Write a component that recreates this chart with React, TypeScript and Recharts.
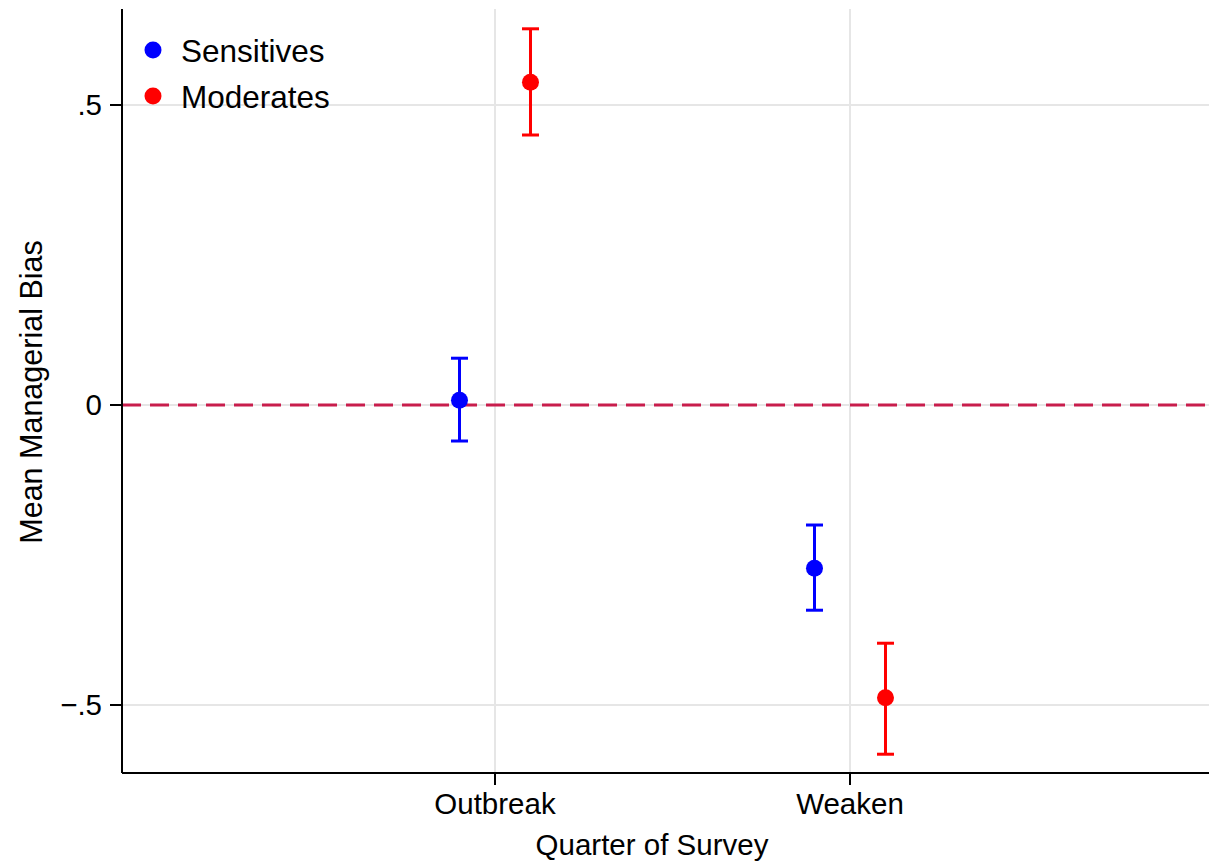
import React from "react";
import {
  ErrorBar,
  Legend,
  ReferenceLine,
  Scatter,
  ScatterChart,
  XAxis,
  YAxis,
} from "recharts";

const quarters = ["Outbreak", "Weaken"];

// Sensitives: mean and 95% CI per quarter
const sensitivesMean = [0.008, -0.272];
const sensitivesLow = [-0.06, -0.342];
const sensitivesHigh = [0.078, -0.2];

// Moderates
const moderatesMean = [0.538, -0.488];
const moderatesLow = [0.45, -0.582];
const moderatesHigh = [0.627, -0.397];

const yTicks = [-0.5, 0, 0.5];
const xTicks = [1, 2];

const FONT = "'Liberation Sans', Arial, Helvetica, sans-serif";
const GRID = "#e6e6e6";

const build = (mean: number[], low: number[], high: number[], shift: number) =>
  mean.map((m, i) => ({
    x: i + 1 + shift,
    y: m,
    err: [m - low[i], high[i] - m],
  }));

const sensitives = build(sensitivesMean, sensitivesLow, sensitivesHigh, -0.1);
const moderates = build(moderatesMean, moderatesLow, moderatesHigh, 0.1);

const series = [
  { name: "Sensitives", color: "#0000ff", data: sensitives },
  { name: "Moderates", color: "#ff0000", data: moderates },
];

const dot = (color: string) => (props: any) =>
  <circle cx={props.cx} cy={props.cy} r={8.5} fill={color} />;

const fmtY = (v: number) => {
  if (v === 0) return "0";
  if (v > 0) return ".5";
  return "\u2212.5";
};

const renderLegend = () => (
  <svg width={260} height={100} style={{ display: "block" }}>
    {series.map((s, i) => (
      <g key={s.name}>
        <circle cx={13} cy={20 + i * 46} r={8.5} fill={s.color} />
        <text x={41} y={32 + i * 46} fontSize={31.5} fontFamily={FONT} fill="#000">
          {s.name}
        </text>
      </g>
    ))}
  </svg>
);

const xTitle = () => (
  <text x={652} y={855} textAnchor="middle" fontSize={29.5} fontFamily={FONT} fill="#000">
    Quarter of Survey
  </text>
);

const yTitle = () => (
  <text
    x={42}
    y={392}
    transform="rotate(-90 42 392)"
    textAnchor="middle"
    fontSize={30.5}
    fontFamily={FONT}
    fill="#000"
  >
    Mean Managerial Bias
  </text>
);

export default function App() {
  return (
    <div style={{ position: "absolute", left: 0, top: 0, background: "#fff" }}>
      <ScatterChart
        width={1209}
        height={863}
        margin={{ top: 9, right: 0, bottom: 0, left: 0 }}
      >
        {yTicks.map((t) => (
          <ReferenceLine key={"gy" + t} y={t} stroke={GRID} strokeWidth={2} />
        ))}
        {xTicks.map((t) => (
          <ReferenceLine key={"gx" + t} x={t} stroke={GRID} strokeWidth={2} />
        ))}
        <XAxis
          type="number"
          dataKey="x"
          domain={[-0.0507, 3.0113]}
          ticks={xTicks}
          tickFormatter={(v: number) => quarters[v - 1] ?? ""}
          height={90}
          tickSize={12}
          tickMargin={8}
          stroke="#000"
          strokeWidth={2}
          tick={{ fill: "#000", fontSize: 29.5, fontFamily: FONT }}
          label={xTitle}
        />
        <YAxis
          type="number"
          dataKey="y"
          domain={[-0.6133, 0.66]}
          ticks={yTicks}
          tickFormatter={fmtY}
          width={122}
          tickSize={12}
          tickMargin={8}
          stroke="#000"
          strokeWidth={2}
          tick={{ fill: "#000", fontSize: 29.5, fontFamily: FONT }}
          label={yTitle}
        />
        <ReferenceLine y={0} stroke="#c81d4c" strokeWidth={3} strokeDasharray="19 9" />
        <Legend
          layout="horizontal"
          verticalAlign="middle"
          align="center"
          content={renderLegend}
          wrapperStyle={{ left: 140, top: 30, width: 260, height: 100 }}
        />
        {series.map((s) => (
          <Scatter
            key={s.name}
            name={s.name}
            data={s.data}
            fill={s.color}
            shape={dot(s.color)}
            isAnimationActive={false}
          >
            <ErrorBar
              dataKey="err"
              direction="y"
              width={8.5}
              stroke={s.color}
              strokeWidth={3}
              isAnimationActive={false}
            />
          </Scatter>
        ))}
      </ScatterChart>
    </div>
  );
}
